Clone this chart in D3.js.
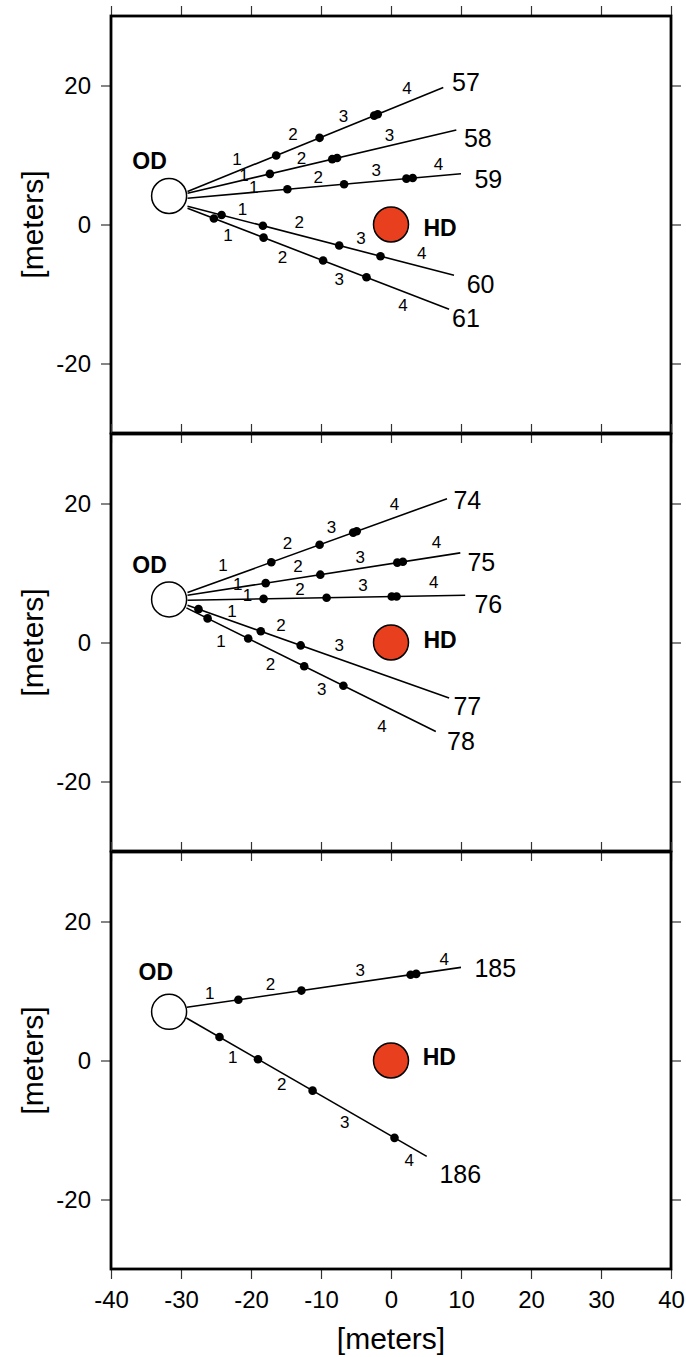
<!DOCTYPE html>
<html><head><meta charset="utf-8">
<script src="https://cdn.jsdelivr.net/npm/d3@7"></script>
<style>body{margin:0;background:#fff}svg{display:block}text{font-family:"Liberation Sans",Arial,sans-serif}</style>
</head><body>
<script>
// ---- data ----
const xTicks = [-40,-30,-20,-10,0,10,20,30,40];
const yTicks = [20,0,-20];
const hdCenter = [0,0];
const odCenters = [[-31.7,4.1],[-31.7,6.2],[-31.7,7.0]];
const odLabels = [[-34.5,9.1],[-34.5,11.2],[-33.6,12.7]];
const hdLabels = [[7.0,-0.5],[7.0,0.3],[6.9,0.5]];

const rays1 = [
  {id:"57", from:[-29.07,4.74], to:[7.47,19.7], lab:[10.7,20.5],
   dots:[[-16.4,9.93],[-10.2,12.47],[-2.4,15.66],[-1.9,15.86]],
   nums:[["1",-22.0,9.4],["2",-14.0,12.9],["3",-6.8,15.6],["4",2.3,19.6]]},
  {id:"58", from:[-29.07,4.5], to:[9.33,13.6], lab:[12.4,12.5],
   dots:[[-17.3,7.29],[-8.4,9.4],[-7.7,9.56]],
   nums:[["1",-21.0,7.0],["2",-12.8,9.5],["3",-0.2,12.8]]},
  {id:"59", from:[-29.07,3.78], to:[10.0,7.3], lab:[13.9,6.6],
   dots:[[-14.8,5.07],[-6.7,5.8],[2.2,6.6],[3.1,6.68]],
   nums:[["1",-19.6,5.3],["2",-10.4,6.7],["3",-2.1,7.8],["4",6.8,8.6]]},
  {id:"60", from:[-29.07,2.63], to:[9.0,-7.3], lab:[12.8,-8.5],
   dots:[[-24.2,1.36],[-18.3,-0.18],[-7.4,-3.02],[-1.5,-4.56]],
   nums:[["1",-21.2,2.1],["2",-13.1,0.3],["3",-4.3,-2.0],["4",4.4,-4.2]]},
  {id:"61", from:[-29.07,2.34], to:[8.3,-12.2], lab:[10.7,-13.4],
   dots:[[-25.3,0.87],[-18.2,-1.89],[-9.7,-5.19],[-3.5,-7.6]],
   nums:[["1",-23.3,-1.6],["2",-15.5,-4.7],["3",-7.4,-7.9],["4",1.7,-11.6]]}
];
const rays2 = [
  {id:"74", from:[-29.07,7.18], to:[8.0,20.7], lab:[10.9,20.5],
   dots:[[-17.1,11.55],[-10.2,14.06],[-5.4,15.81],[-4.9,16.0]],
   nums:[["1",-24.0,11.1],["2",-14.8,14.2],["3",-8.5,16.5],["4",0.5,19.9]]},
  {id:"75", from:[-29.07,6.79], to:[9.9,12.9], lab:[12.9,11.6],
   dots:[[-17.9,8.54],[-10.1,9.76],[0.9,11.49],[1.7,11.61]],
   nums:[["1",-21.9,8.4],["2",-13.3,10.9],["3",-4.4,12.2],["4",6.5,14.4]]},
  {id:"76", from:[-29.07,6.08], to:[10.6,6.8], lab:[13.9,5.6],
   dots:[[-18.2,6.28],[-9.2,6.44],[0.1,6.61],[0.8,6.62]],
   nums:[["1",-20.5,6.8],["2",-13.0,7.6],["3",-4.0,8.2],["4",6.1,8.6]]},
  {id:"77", from:[-29.07,5.36], to:[8.3,-8.0], lab:[10.9,-9.2],
   dots:[[-27.5,4.8],[-18.6,1.62],[-12.9,-0.42]],
   nums:[["1",-22.7,4.5],["2",-15.7,2.4],["3",-7.4,-0.5]]},
  {id:"78", from:[-29.23,4.98], to:[6.4,-12.8], lab:[10.0,-14.2],
   dots:[[-26.2,3.47],[-20.4,0.57],[-12.4,-3.42],[-6.8,-6.22]],
   nums:[["1",-24.3,0.2],["2",-17.2,-3.2],["3",-9.9,-6.8],["4",-1.3,-12.1]]}
];
const rays3 = [
  {id:"185", from:[-29.17,7.66], to:[10.0,13.4], lab:[14.9,13.3],
   dots:[[-21.8,8.74],[-12.8,10.06],[2.8,12.34],[3.6,12.46]],
   nums:[["1",-25.9,9.7],["2",-17.2,10.9],["3",-4.4,13.0],["4",7.6,14.6]]},
  {id:"186", from:[-29.23,6.12], to:[5.1,-13.8], lab:[9.9,-16.4],
   dots:[[-24.5,3.38],[-19.0,0.18],[-11.2,-4.34],[0.5,-11.13]],
   nums:[["1",-22.6,0.5],["2",-15.6,-3.4],["3",-6.6,-8.9],["4",2.6,-14.4]]}
];
const panelRays = [rays1, rays2, rays3];

// ---- layout ----
const W = 686, H = 1357;
const left = 111, right = 671;
const panelTops = [16, 434, 852];
const panelH = 417;
const odR = 2.5, hdR = 2.5;

const svg = d3.select("body").append("svg").attr("width", W).attr("height", H);
const x = d3.scaleLinear().domain([-40,40]).range([left,right]);

panelRays.forEach((rays, i) => {
  const top = panelTops[i];
  const y = d3.scaleLinear().domain([-30,30]).range([top+panelH, top]);
  const g = svg.append("g");
  const unit = x(1) - x(0);

  // axes ticks
  g.append("g").attr("transform",`translate(${left},0)`)
    .call(d3.axisLeft(y).tickValues(yTicks).tickSize(10).tickPadding(10).tickFormat(d => String(d)))
    .call(a => a.select(".domain").remove())
    .call(a => a.selectAll("text").attr("font-size",24).attr("fill","#000").attr("font-family","Liberation Sans, Arial"));
  g.append("g").attr("transform",`translate(${right},0)`)
    .call(d3.axisRight(y).tickValues(yTicks).tickSize(10).tickFormat(""))
    .call(a => a.select(".domain").remove());
  g.append("g").attr("transform",`translate(0,${top})`)
    .call(d3.axisTop(x).tickValues(xTicks).tickSize(10).tickFormat(""))
    .call(a => a.select(".domain").remove());
  const bottomAxis = d3.axisBottom(x).tickValues(xTicks).tickSize(10).tickPadding(12)
    .tickFormat(i < 2 ? "" : (d => String(d)));
  g.append("g").attr("transform",`translate(0,${top+panelH})`)
    .call(bottomAxis)
    .call(a => a.select(".domain").remove())
    .call(a => a.selectAll("text").attr("font-size",24).attr("fill","#000").attr("font-family","Liberation Sans, Arial"));
  g.selectAll(".tick line").attr("stroke","#333").attr("stroke-width",1.2);

  // frame
  g.append("rect").attr("x",left).attr("y",top).attr("width",right-left).attr("height",panelH)
    .attr("fill","none").attr("stroke","#000").attr("stroke-width",2.8);

  // y-axis title
  g.append("text").attr("transform",`translate(32,${top+panelH/2}) rotate(-90)`)
    .attr("text-anchor","middle").attr("dominant-baseline","central")
    .attr("font-size",30).text("[meters]");

  // rays
  rays.forEach(r => {
    g.append("line").attr("x1",x(r.from[0])).attr("y1",y(r.from[1]))
      .attr("x2",x(r.to[0])).attr("y2",y(r.to[1])).attr("stroke","#000").attr("stroke-width",1.6);
    g.selectAll(null).data(r.dots).join("circle")
      .attr("cx",d=>x(d[0])).attr("cy",d=>y(d[1])).attr("r",4.3).attr("fill","#000");
    g.selectAll(null).data(r.nums).join("text")
      .attr("x",d=>x(d[1])).attr("y",d=>y(d[2])).attr("text-anchor","middle")
      .attr("dominant-baseline","central").attr("font-size",17).text(d=>d[0]);
    g.append("text").attr("x",x(r.lab[0])).attr("y",y(r.lab[1])).attr("text-anchor","middle")
      .attr("dominant-baseline","central").attr("font-size",25).text(r.id);
  });

  // OD circle
  const od = odCenters[i];
  g.append("circle").attr("cx",x(od[0])).attr("cy",y(od[1])).attr("r",odR*unit)
    .attr("fill","#fff").attr("stroke","#000").attr("stroke-width",1.5);
  g.append("text").attr("x",x(odLabels[i][0])).attr("y",y(odLabels[i][1]))
    .attr("text-anchor","middle").attr("dominant-baseline","central")
    .attr("font-size",23).attr("font-weight","bold").text("OD");

  // HD circle
  g.append("circle").attr("cx",x(hdCenter[0])).attr("cy",y(hdCenter[1])).attr("r",hdR*unit)
    .attr("fill","#e8401e").attr("stroke","#000").attr("stroke-width",1.5);
  g.append("text").attr("x",x(hdLabels[i][0])).attr("y",y(hdLabels[i][1]))
    .attr("text-anchor","middle").attr("dominant-baseline","central")
    .attr("font-size",23).attr("font-weight","bold").text("HD");
});

// x-axis title
svg.append("text").attr("x",x(0)).attr("y",1338).attr("text-anchor","middle")
  .attr("dominant-baseline","central").attr("font-size",30).text("[meters]");
</script>
</body></html>
